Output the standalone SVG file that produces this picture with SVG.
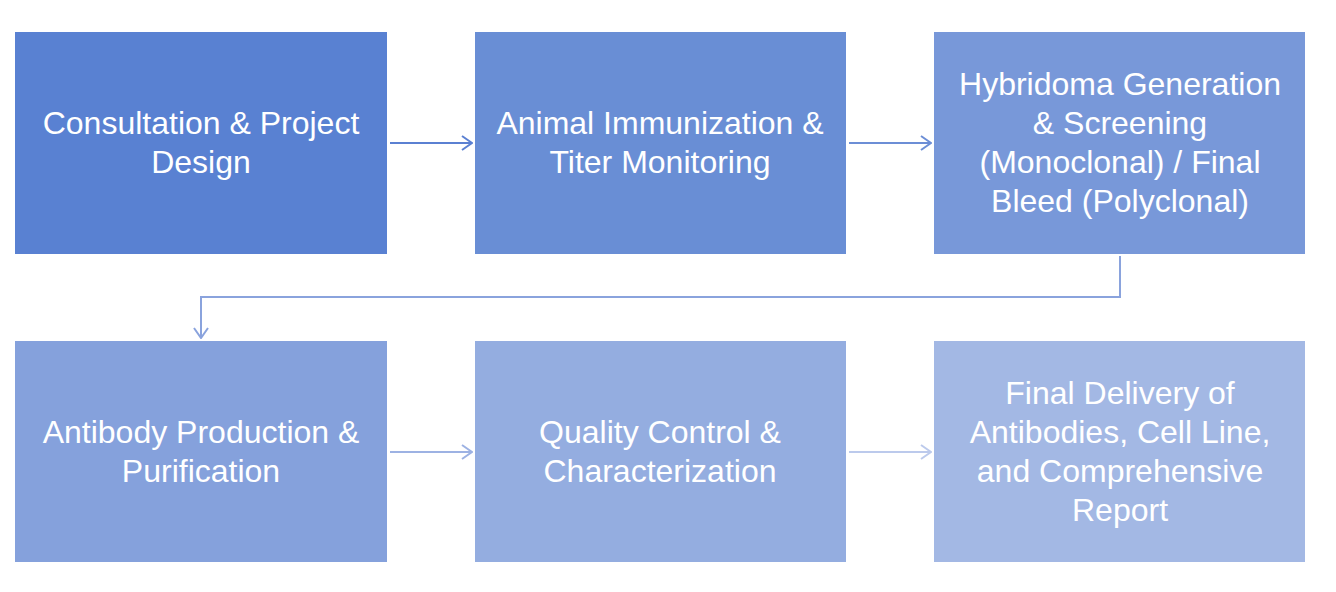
<svg xmlns="http://www.w3.org/2000/svg" width="1336" height="592" viewBox="0 0 1336 592">
<defs>
<style>
.t{font-family:"Liberation Sans",Arial,sans-serif;font-size:32px;fill:#ffffff;text-anchor:middle}
.c{fill:none;stroke-width:2}
</style>
<marker id="a1" markerWidth="12" markerHeight="16" refX="11" refY="8" orient="auto" markerUnits="userSpaceOnUse"><path d="M1,1 L11,8 L1,15" fill="none" stroke="#5B80D2" stroke-width="2"/></marker>
<marker id="a2" markerWidth="12" markerHeight="16" refX="11" refY="8" orient="auto" markerUnits="userSpaceOnUse"><path d="M1,1 L11,8 L1,15" fill="none" stroke="#6C8ED6" stroke-width="2"/></marker>
<marker id="a3" markerWidth="12" markerHeight="16" refX="11" refY="8" orient="auto" markerUnits="userSpaceOnUse"><path d="M1,1 L11,8 L1,15" fill="none" stroke="#8AA3DD" stroke-width="2"/></marker>
<marker id="a4" markerWidth="12" markerHeight="16" refX="11" refY="8" orient="auto" markerUnits="userSpaceOnUse"><path d="M1,1 L11,8 L1,15" fill="none" stroke="#9DB2E3" stroke-width="2"/></marker>
<marker id="a5" markerWidth="12" markerHeight="16" refX="11" refY="8" orient="auto" markerUnits="userSpaceOnUse"><path d="M1,1 L11,8 L1,15" fill="none" stroke="#BCCAEC" stroke-width="2"/></marker>
</defs>
<rect width="1336" height="592" fill="#ffffff"/>
<g id="n1"><rect x="15" y="32" width="372" height="222" fill="#5981D2"/>
<text class="t" x="201" y="134">Consultation &amp; Project</text><text class="t" x="201" y="173">Design</text></g>
<g id="n2"><rect x="475" y="32" width="371" height="222" fill="#698ED5"/>
<text class="t" x="660" y="134">Animal Immunization &amp;</text><text class="t" x="660" y="173">Titer Monitoring</text></g>
<g id="n3"><rect x="934" y="32" width="371" height="222" fill="#7898D9"/>
<text class="t" x="1120" y="95">Hybridoma Generation</text><text class="t" x="1120" y="134">&amp; Screening</text><text class="t" x="1120" y="173">(Monoclonal) / Final</text><text class="t" x="1120" y="212">Bleed (Polyclonal)</text></g>
<g id="n4"><rect x="15" y="341" width="372" height="221" fill="#85A1DC"/>
<text class="t" x="201" y="443">Antibody Production &amp;</text><text class="t" x="201" y="482">Purification</text></g>
<g id="n5"><rect x="475" y="341" width="371" height="221" fill="#94ADE0"/>
<text class="t" x="660" y="443">Quality Control &amp;</text><text class="t" x="660" y="482">Characterization</text></g>
<g id="n6"><rect x="934" y="341" width="371" height="221" fill="#A3B8E4"/>
<text class="t" x="1120" y="404">Final Delivery of</text><text class="t" x="1120" y="443">Antibodies, Cell Line,</text><text class="t" x="1120" y="482">and Comprehensive</text><text class="t" x="1120" y="521">Report</text></g>
<g id="connectors">
<line class="c" x1="390" y1="143" x2="472" y2="143" stroke="#5B80D2" marker-end="url(#a1)"/>
<line class="c" x1="849" y1="143" x2="931" y2="143" stroke="#6C8ED6" marker-end="url(#a2)"/>
<polyline class="c" points="1120,256 1120,297 201,297 201,338" stroke="#8AA3DD" marker-end="url(#a3)"/>
<line class="c" x1="390" y1="452" x2="472" y2="452" stroke="#9DB2E3" marker-end="url(#a4)"/>
<line class="c" x1="849" y1="452" x2="931" y2="452" stroke="#BCCAEC" marker-end="url(#a5)"/>
</g>
</svg>
